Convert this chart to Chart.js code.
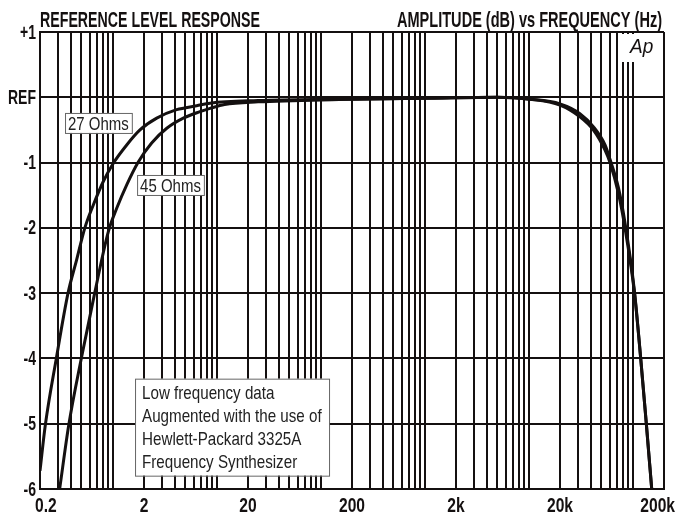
<!DOCTYPE html>
<html><head><meta charset="utf-8">
<script src="https://cdn.jsdelivr.net/npm/chart.js@4.4.1/dist/chart.umd.min.js"></script>
<style>html,body{margin:0;padding:0;background:#fff}#wrap{width:676px;height:514px}</style>
</head><body><div id="wrap"><canvas id="c" width="676" height="514"></canvas></div>
<script>
// ---- data ----
const freq27 = [0.2, 0.225, 0.287, 0.372, 0.45, 0.54, 0.651, 0.812, 1.014, 1.364, 1.83, 2.65, 4.12, 6.42, 8.63, 25, 150, 1000, 5000, 10300, 20000, 31100, 41800, 54200, 60500, 72800, 84300, 104000, 119400, 135200, 152400];
const db27   = [-5.72, -5.02, -4.0, -3.0, -2.49, -2.0, -1.65, -1.29, -1.01, -0.73, -0.50, -0.32, -0.19, -0.13, -0.09, -0.05, -0.03, -0.015, 0, -0.03, -0.12, -0.30, -0.50, -0.81, -1.0, -1.47, -2.0, -3.0, -4.0, -5.0, -6.0];
const freq45 = [0.309, 0.378, 0.499, 0.671, 0.907, 1.093, 1.364, 1.762, 2.37, 3.31, 4.77, 6.9, 8.63, 11.9, 25, 150, 1000, 5000, 10300, 20000, 31100, 41800, 54200, 60500, 72800, 84300, 104000, 119400, 135200, 152400];
const db45   = [-6.0, -5.02, -4.0, -3.0, -2.06, -1.70, -1.34, -0.99, -0.70, -0.475, -0.32, -0.22, -0.17, -0.11, -0.07, -0.035, -0.015, 0, -0.03, -0.10, -0.25, -0.45, -0.73, -0.95, -1.38, -1.92, -2.97, -4.0, -5.0, -6.0];
const seriesNames = ['27 Ohms', '45 Ohms'];
const xTickValues = [0.2, 2, 20, 200, 2000, 20000, 200000];
const xTickLabels = ['0.2', '2', '20', '200', '2k', '20k', '200k'];
const yTickValues = [-6, -5, -4, -3, -2, -1, 0, 1];
const yTickLabels = ['-6', '-5', '-4', '-3', '-2', '-1', 'REF', '+1'];
const headerLeft = 'REFERENCE LEVEL RESPONSE';
const headerRight = 'AMPLITUDE (dB) vs FREQUENCY (Hz)';
const noteLines = ['Low frequency data', 'Augmented with the use of', 'Hewlett-Packard 3325A', 'Frequency Synthesizer'];
const logoText = 'Ap';

// ---- styles ----
const SANS = "'Liberation Sans',Arial,Helvetica,sans-serif";
const INK = '#141010';

// log grid: 1..9 x each decade
const gridValues = [];
for (let e = -1; e <= 5; e++) {
  for (let m = 1; m <= 9; m++) {
    const v = +(m * Math.pow(10, e)).toPrecision(3);
    if (v >= 0.2 && v <= 200000) gridValues.push(v);
  }
}

const toPts = (f, d) => f.map((x, i) => ({x, y: d[i]}));

// condensed text helper
function ctext(ctx, s, x, y, o) {
  ctx.save();
  ctx.font = (o.italic ? 'italic ' : '') + (o.bold ? 'bold ' : '') + o.size + 'px ' + SANS;
  ctx.textBaseline = o.base || 'alphabetic';
  ctx.textAlign = 'left';
  ctx.fillStyle = o.color || INK;
  const nat = ctx.measureText(s).width;
  const sx = o.width ? o.width / nat : (o.sx || 1);
  const w = nat * sx;
  let left = o.align === 'right' ? x - w : o.align === 'center' ? x - w / 2 : x;
  if (o.minLeft !== undefined) left = Math.max(left, o.minLeft);
  if (o.maxRight !== undefined) left = Math.min(left, o.maxRight - w);
  ctx.translate(left, y);
  ctx.scale(sx, 1);
  ctx.fillText(s, 0, 0);
  ctx.restore();
  return w;
}

const decor = {
  id: 'decor',
  beforeDatasetsDraw(chart) {
    const {ctx, chartArea: a} = chart;
    ctx.save();
    ctx.fillStyle = '#fff';
    ctx.fillRect(a.right - 44, a.top + 2, 42, 28);
    ctx.restore();
  },
  afterDraw(chart) {
    const {ctx, chartArea: a, scales: {x, y}} = chart;
    // headers
    ctext(ctx, headerLeft, a.left, 27, {size: 21.5, bold: true, width: 220});
    ctext(ctx, headerRight, a.right - 2, 27, {size: 21.5, bold: true, width: 265, align: 'right'});
    // y tick labels
    yTickValues.forEach((v, i) => {
      ctext(ctx, yTickLabels[i], a.left - 4, y.getPixelForValue(v) + 1, {size: 20, bold: true, sx: 0.7, align: 'right', base: 'middle'});
    });
    // x tick labels
    xTickValues.forEach((v, i) => {
      ctext(ctx, xTickLabels[i], x.getPixelForValue(v), a.bottom + 17, {size: 20, bold: true, sx: 0.78, align: 'center', base: 'middle', minLeft: a.left - 5, maxRight: chart.width - 1});
    });
    // logo
    ctext(ctx, logoText, a.right - 34, 53, {size: 20, italic: true, sx: 0.95});
    // series labels
    const boxLabel = (txt, fx, fy) => {
      const px = x.getPixelForValue(fx), py = y.getPixelForValue(fy);
      ctx.save();
      ctx.font = '18.5px ' + SANS;
      const w = ctx.measureText(txt).width * 0.81 + 6;
      ctx.fillStyle = '#fff';
      ctx.fillRect(px, py, w, 20);
      ctx.strokeStyle = '#666';
      ctx.lineWidth = 1;
      ctx.strokeRect(px + 0.5, py + 0.5, w, 20);
      ctx.restore();
      ctext(ctx, txt, px + 3, py + 17, {size: 18.5, sx: 0.81, color: '#222'});
    };
    boxLabel(seriesNames[0], 0.348, -0.24);
    boxLabel(seriesNames[1], 1.716, -1.19);
    // note box
    const nx = x.getPixelForValue(1.64), ny = y.getPixelForValue(-4.31);
    ctx.save();
    ctx.fillStyle = '#fff';
    ctx.fillRect(nx, ny, 194, 97);
    ctx.strokeStyle = '#666';
    ctx.lineWidth = 1;
    ctx.strokeRect(nx + 0.5, ny + 0.5, 194, 97);
    ctx.restore();
    noteLines.forEach((t, i) => ctext(ctx, t, nx + 7, ny + 20 + i * 23, {size: 18.5, sx: 0.82, color: '#222'}));
  }
};

new Chart(document.getElementById('c'), {
  type: 'line',
  data: {
    datasets: [
      {label: seriesNames[0], data: toPts(freq27, db27), borderColor: INK, borderWidth: 3, pointRadius: 0, cubicInterpolationMode: 'monotone', fill: false},
      {label: seriesNames[1], data: toPts(freq45, db45), borderColor: INK, borderWidth: 3, pointRadius: 0, cubicInterpolationMode: 'monotone', fill: false}
    ]
  },
  options: {
    responsive: false,
    animation: false,
    devicePixelRatio: 1,
    layout: {padding: {top: 32, right: 12, bottom: 0, left: 0}},
    plugins: {legend: {display: false}, tooltip: {enabled: false}},
    scales: {
      x: {
        type: 'logarithmic', min: 0.2, max: 200000,
        afterBuildTicks: s => { s.ticks = gridValues.map(v => ({value: v})); },
        afterFit: s => { s.height = 25; },
        ticks: {display: false, autoSkip: false},
        grid: {color: INK, lineWidth: 2, drawTicks: false},
        border: {color: INK, width: 2}
      },
      y: {
        type: 'linear', min: -6, max: 1,
        afterBuildTicks: s => { s.ticks = yTickValues.map(v => ({value: v})); },
        afterFit: s => { s.width = 40; },
        ticks: {display: false},
        grid: {color: INK, lineWidth: 2, drawTicks: false},
        border: {color: INK, width: 2}
      }
    }
  },
  plugins: [decor]
});
</script></body></html>
